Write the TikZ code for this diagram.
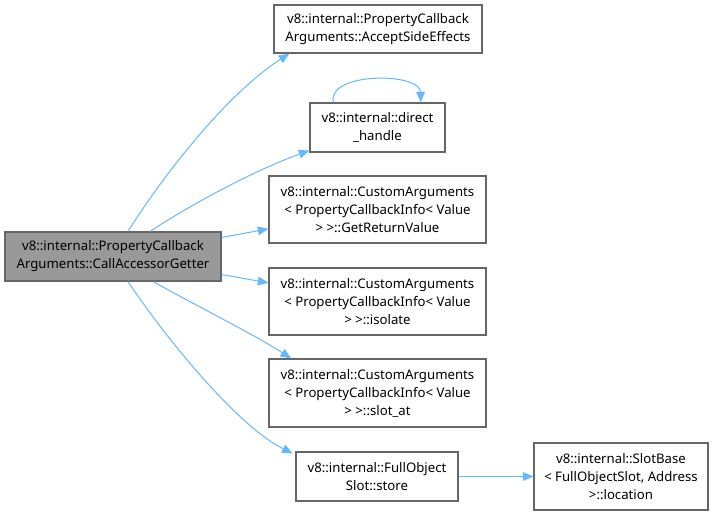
\documentclass[tikz,border=0pt]{standalone}
\usepackage{fontspec}
\setmainfont{Noto Sans}
\usetikzlibrary{arrows.meta}
\definecolor{bleuappel}{HTML}{63B8FF}
\definecolor{bordgris}{HTML}{666666}
\definecolor{fondgris}{HTML}{999999}

\begin{document}
\begin{tikzpicture}[x=0.75pt,y=-0.75pt]
 \tikzstyle{fonction}=[rectangle,draw=bordgris,line width=0.8pt,fill=white,text=black,align=center,inner sep=0pt,font=\fontsize{9.9}{13.5}\selectfont]
 \tikzstyle{courante}=[fonction,fill=fondgris]
 \tikzstyle{appel}=[->,>={Triangle[length=8pt,width=6.5pt]},draw=bleuappel,color=bleuappel,line width=0.75pt]
 \useasboundingbox (0,0) rectangle (713,516);
 \node[courante,minimum width=162pt,minimum height=36.75pt] (CAG) at (113,256.5) {v8::internal::PropertyCallback\\Arguments::CallAccessorGetter};
 \node[fonction,minimum width=156pt,minimum height=36pt] (ASE) at (378,29) {v8::internal::PropertyCallback\\Arguments::AcceptSideEffects};
 \node[fonction,minimum width=101.25pt,minimum height=36.75pt] (DH) at (377.5,127.5) {v8::internal::direct\\\_handle};
 \node[fonction,minimum width=162.75pt,minimum height=50.25pt] (GRV) at (377.5,209.5) {v8::internal::CustomArguments\\{\textless} PropertyCallbackInfo{\textless} Value\\{\textgreater} {\textgreater}::GetReturnValue};
 \node[fonction,minimum width=162.75pt,minimum height=50.25pt] (ISO) at (377.5,301.5) {v8::internal::CustomArguments\\{\textless} PropertyCallbackInfo{\textless} Value\\{\textgreater} {\textgreater}::isolate};
 \node[fonction,minimum width=162.75pt,minimum height=51pt] (SAT) at (377.5,393) {v8::internal::CustomArguments\\{\textless} PropertyCallbackInfo{\textless} Value\\{\textgreater} {\textgreater}::slot\_at};
 \node[fonction,minimum width=121.5pt,minimum height=36.75pt] (FOS) at (377,476.5) {v8::internal::FullObject\\Slot::store};
 \node[fonction,minimum width=130.5pt,minimum height=50.25pt] (SBL) at (621,476.5) {v8::internal::SlotBase\\{\textless} FullObjectSlot, Address\\{\textgreater}::location};
 % appels depuis CallAccessorGetter
 \draw[appel] (CAG.north) ++(15,0) .. controls (160,180) and (225,95) .. ([xshift=12pt]ASE.south west);
 \draw[appel] (CAG.north) ++(37,0) .. controls (190,205) and (255,170) .. ([yshift=1.5pt]DH.south west);
 \draw[appel] (CAG.east) ++(0,-19) -- ([yshift=-14.5pt]GRV.west);
 \draw[appel] (CAG.east) ++(0,18) -- ([yshift=14pt]ISO.west);
 \draw[appel] (CAG.south) ++(40,0) .. controls (195,305) and (255,335) .. ([xshift=17pt]SAT.south west |- SAT.north);
 \draw[appel] (CAG.south) ++(15,0) .. controls (160,330) and (235,425) .. ([xshift=-2pt,yshift=-1.5pt]FOS.north west);
 % appel recursif et dernier appel
 \draw[appel] (DH.north) ++(-44,0) .. controls (326,72) and (420,72) .. ([xshift=-18.5pt]DH.north east);
 \draw[appel] (FOS) -- (SBL);
\end{tikzpicture}
\end{document}
